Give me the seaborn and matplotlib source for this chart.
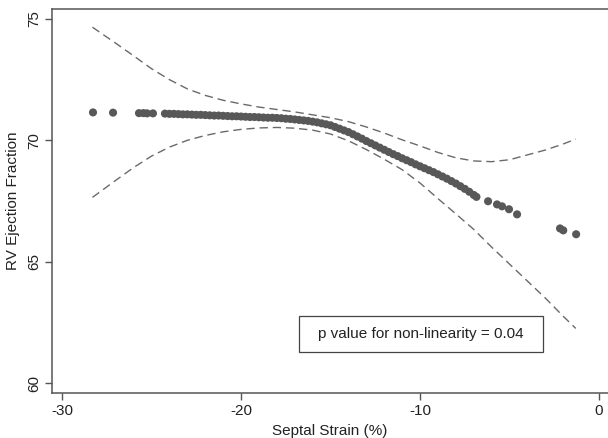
import matplotlib
matplotlib.use("Agg")
import matplotlib.pyplot as plt
import seaborn as sns
import pandas as pd
from matplotlib.patches import Rectangle

# ---- data ----
fit_x = [-28.27, -27.15, -25.7, -25.45, -25.25, -24.92,
         -24.25, -24.0, -23.75, -23.5, -23.25, -23.0, -22.75, -22.5, -22.25, -22.0,
         -21.75, -21.5, -21.25, -21.0, -20.75, -20.5, -20.25, -20.0, -19.75, -19.5,
         -19.25, -19.0, -18.75, -18.5, -18.25, -18.0, -17.75, -17.5, -17.25, -17.0,
         -16.75, -16.5, -16.25, -16.0, -15.75, -15.5, -15.25, -15.0, -14.75, -14.5,
         -14.25, -14.0, -13.75, -13.5, -13.25, -13.0, -12.75, -12.5, -12.25, -12.0,
         -11.75, -11.5, -11.25, -11.0, -10.75, -10.5, -10.25, -10.0, -9.75, -9.5,
         -9.25, -9.0, -8.75, -8.5, -8.25, -8.0, -7.75, -7.5, -7.25, -7.0, -6.85,
         -6.2, -5.7, -5.42, -5.03, -4.58, -2.18, -2.0, -1.28]
fit_y = [71.15, 71.14, 71.12, 71.12, 71.11, 71.11,
         71.10, 71.09, 71.09, 71.08, 71.07, 71.07, 71.06, 71.05, 71.05, 71.04,
         71.03, 71.02, 71.02, 71.01, 71.00, 70.99, 70.99, 70.98, 70.97, 70.96,
         70.96, 70.95, 70.94, 70.93, 70.93, 70.92, 70.91, 70.89, 70.88, 70.86,
         70.84, 70.82, 70.80, 70.77, 70.74, 70.70, 70.66, 70.62, 70.55, 70.48,
         70.41, 70.34, 70.25, 70.16, 70.07, 69.97, 69.88, 69.79, 69.70, 69.61,
         69.52, 69.43, 69.35, 69.26, 69.18, 69.10, 69.01, 68.93, 68.85, 68.77,
         68.69, 68.60, 68.51, 68.42, 68.32, 68.22, 68.11, 68.00, 67.88, 67.75, 67.67,
         67.49, 67.36, 67.28, 67.16, 66.95, 66.37, 66.29, 66.13]

ci_x = [-28.3, -27, -26, -25, -24, -23, -22, -21, -20, -19, -18, -17, -16, -15,
        -14, -13, -12, -11, -10, -9, -8, -7, -6, -5, -4, -3, -2, -1.3]
ci_upper = [74.66, 74.0, 73.48, 72.95, 72.5, 72.12, 71.85, 71.65, 71.5, 71.37, 71.27,
            71.17, 71.05, 70.93, 70.77, 70.55, 70.3, 70.02, 69.77, 69.5, 69.28, 69.15,
            69.12, 69.2, 69.4, 69.6, 69.85, 70.05]
ci_lower = [67.65, 68.35, 68.88, 69.35, 69.72, 70.0, 70.2, 70.35, 70.45, 70.51, 70.53,
            70.5, 70.42, 70.26, 69.98, 69.62, 69.22, 68.79, 68.24, 67.6, 66.97, 66.33,
            65.6, 64.9, 64.2, 63.5, 62.75, 62.25]

x_ticks = [-30, -20, -10, 0]
y_ticks = [60, 65, 70, 75]
x_label = "Septal Strain (%)"
y_label = "RV Ejection Fraction"
note = "p value for non-linearity = 0.04"

# ---- figure ----
sns.set_style("white")
plt.rcParams['font.family'] = ['Liberation Sans', 'DejaVu Sans']

fig = plt.figure(figsize=(6.08, 4.38), dpi=100)
ax = fig.add_axes([52/608, 1 - 393/438, 1 - 52/608, (393 - 9)/438])

pts = pd.DataFrame({"x": fit_x, "y": fit_y})
ci = pd.DataFrame({"x": ci_x, "upper": ci_upper, "lower": ci_lower})

dash = (6, 3.5)
sns.lineplot(data=ci, x="x", y="upper", ax=ax, color="#6a6a6a", lw=1.0,
             dashes=False, estimator=None, sort=False)
sns.lineplot(data=ci, x="x", y="lower", ax=ax, color="#6a6a6a", lw=1.0,
             dashes=False, estimator=None, sort=False)
for ln in ax.lines:
    ln.set_dashes(dash)
sns.scatterplot(data=pts, x="x", y="y", ax=ax, color="#585858", s=34,
                edgecolor="none", linewidth=0, zorder=3)

ax.set_xlim(-30.56, 0.5)
ax.set_ylim(59.59, 75.41)
ax.set_xticks(x_ticks)
ax.set_yticks(y_ticks)
ax.set_xticklabels([str(t) for t in x_ticks], fontsize=11, color="#222222")
ax.set_yticklabels([str(t) for t in y_ticks], fontsize=11, color="#222222",
                   rotation=90, va="center")
ax.set_xlabel(x_label, fontsize=11, color="#222222", labelpad=4)
ax.set_ylabel(y_label, fontsize=11, color="#222222", labelpad=5)

ax.tick_params(axis="both", which="major", direction="out", length=5, width=1.0,
               color="#555555", pad=3, bottom=True, left=True)
for side in ["left", "bottom", "top"]:
    ax.spines[side].set_visible(True)
    ax.spines[side].set_color("#555555")
    ax.spines[side].set_linewidth(1.1)
ax.spines["right"].set_visible(False)

# annotation box
x0, x1 = -16.76, -3.13
y0, y1 = 61.26, 62.75
ax.add_patch(Rectangle((x0, y0), x1 - x0, y1 - y0, fill=False,
                       edgecolor="#444444", lw=0.9, zorder=4))
ax.text((x0 + x1) / 2, (y0 + y1) / 2, note, ha="center", va="center",
        fontsize=11, color="#222222", zorder=5)

fig.savefig("out.png", dpi=100)
